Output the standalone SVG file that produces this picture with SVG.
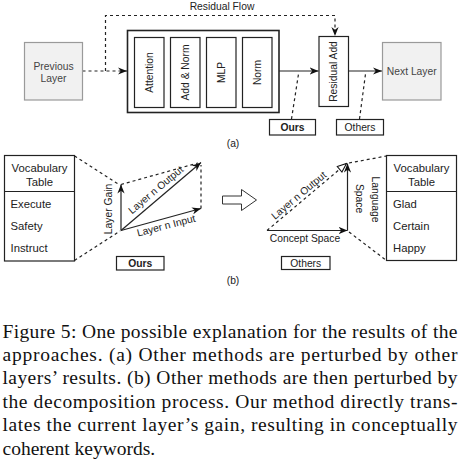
<svg xmlns="http://www.w3.org/2000/svg" width="464" height="467" viewBox="0 0 464 467">
<defs>
<style>
.t{font-family:"Liberation Sans",Arial,sans-serif;font-size:10.3px;fill:#222;text-anchor:middle}
.tl{font-family:"Liberation Sans",Arial,sans-serif;font-size:11.3px;fill:#222}
.tc{font-family:"Liberation Sans",Arial,sans-serif;font-size:11.3px;fill:#222;text-anchor:middle}
.b{font-weight:bold}
.g{fill:#444}
.box{fill:#fff;stroke:#222;stroke-width:1.2}
.gbox{fill:#f1f1f1;stroke:#9a9a9a;stroke-width:1.2}
.ln{fill:none;stroke:#222;stroke-width:1.2}
.dl{fill:none;stroke:#222;stroke-width:1.2;stroke-dasharray:3 3}
.cap{font-family:"Liberation Serif","Times New Roman",serif;font-size:19.5px;fill:#111}
</style>
<marker id="ar" markerUnits="userSpaceOnUse" viewBox="0 0 10 8" markerWidth="9" markerHeight="7.2" refX="10" refY="4" orient="auto">
<path d="M0,0 L10,4 L0,8 L3,4 Z" fill="#111"/>
</marker>
<marker id="ho" markerUnits="userSpaceOnUse" viewBox="0 0 12 10" markerWidth="11" markerHeight="9" refX="11" refY="5" orient="auto">
<path d="M1,1 L11,5 L1,9 Z" fill="#fff" stroke="#111" stroke-width="1.2"/>
</marker>
</defs>

<text class="t" x="222" y="9.5">Residual Flow</text>

<g id="connectors">
<line class="dl" x1="82.5" y1="71" x2="127" y2="71" marker-end="url(#ar)"/>
<path class="dl" d="M105.5,71 V15.5 H335 V36" marker-end="url(#ar)"/>
<line class="ln" x1="279" y1="71" x2="318.5" y2="71" marker-end="url(#ar)"/>
<line class="ln" x1="348.5" y1="71" x2="382" y2="71" marker-end="url(#ar)"/>
<line class="dl" x1="291.5" y1="119" x2="298.5" y2="74"/>
<line class="dl" x1="359.5" y1="119" x2="365.5" y2="74"/>
<line class="dl" x1="74.5" y1="156" x2="119" y2="184.5"/>
<line class="dl" x1="74.5" y1="260.5" x2="120" y2="231"/>
<line class="ln" x1="121" y1="230.5" x2="121" y2="184.5" marker-end="url(#ar)"/>
<line class="ln" x1="121" y1="230.5" x2="201" y2="162.5" marker-end="url(#ar)"/>
<line class="ln" x1="121" y1="230.5" x2="201" y2="208.5" marker-end="url(#ar)"/>
<line class="dl" x1="121" y1="184.5" x2="198" y2="163"/>
<line class="dl" x1="201" y1="208.5" x2="201" y2="165"/>
<line class="ln" x1="267" y1="230.5" x2="347.5" y2="230.5" marker-end="url(#ar)"/>
<line class="ln" x1="347.5" y1="230.5" x2="347.5" y2="163.5" marker-end="url(#ar)"/>
<line class="dl" x1="267" y1="230.5" x2="346.5" y2="163.5" marker-end="url(#ho)"/>
<line class="dl" x1="349" y1="163" x2="386.5" y2="156"/>
<line class="dl" x1="349" y1="232" x2="386.5" y2="260.5"/>
</g>

<g id="previous-layer">
<rect class="gbox" x="24.5" y="42.5" width="58" height="57.5"/>
<text class="t g" x="53.5" y="69.5">Previous</text>
<text class="t g" x="53.5" y="82">Layer</text>
</g>

<g id="block">
<rect fill="#fff" stroke="#222" stroke-width="1.6" x="127.5" y="30.5" width="151.5" height="82"/>
</g>
<g id="attention">
<rect class="box" x="134.5" y="37.5" width="29.5" height="70"/>
<text class="t" transform="translate(149.25,72.5) rotate(-90)" y="3.6">Attention</text>
</g>
<g id="add-norm">
<rect class="box" x="170.5" y="37.5" width="29.5" height="70"/>
<text class="t" transform="translate(185.25,72.5) rotate(-90)" y="3.6">Add &amp; Norm</text>
</g>
<g id="mlp">
<rect class="box" x="206.5" y="37.5" width="29.5" height="70"/>
<text class="t" transform="translate(221.25,72.5) rotate(-90)" y="3.6">MLP</text>
</g>
<g id="norm">
<rect class="box" x="242.5" y="37.5" width="29.5" height="70"/>
<text class="t" transform="translate(257.25,72.5) rotate(-90)" y="3.6">Norm</text>
</g>

<g id="residual-add">
<rect class="box" x="319" y="36.5" width="29.5" height="70"/>
<text class="t" transform="translate(333.75,71.5) rotate(-90)" y="3.6">Residual Add</text>
</g>

<g id="next-layer">
<rect class="gbox" x="382.5" y="42.5" width="58.5" height="57.5"/>
<text class="t g" x="411.75" y="75">Next Layer</text>
</g>

<g id="ours-a">
<rect class="box" x="269.5" y="119.5" width="46" height="15.5"/>
<text class="t b" x="292.5" y="131">Ours</text>
</g>
<g id="others-a">
<rect class="box" x="336.5" y="119.5" width="47" height="15.5"/>
<text class="t" x="360" y="131">Others</text>
</g>
<text class="t" x="233" y="147">(a)</text>

<g id="vocab-left">
<rect class="box" x="4.5" y="155.5" width="70" height="105.5"/>
<line class="ln" x1="4.5" y1="191.5" x2="74.5" y2="191.5"/>
<text class="tc" x="39.5" y="172">Vocabulary</text>
<text class="tc" x="39.5" y="185.5">Table</text>
<text class="tl" x="10.5" y="207.5">Execute</text>
<text class="tl" x="10.5" y="229.5">Safety</text>
<text class="tl" x="10.5" y="252">Instruct</text>
</g>

<g id="vectors-left">
<text class="t" transform="translate(111.5,209) rotate(-90)">Layer Gain</text>
<text class="t" transform="translate(158,192.5) rotate(-40)">Layer n Output</text>
<text class="t" transform="translate(167,229) rotate(-14.5)">Layer n Input</text>
</g>

<g id="ours-b">
<rect class="box" x="116.5" y="256.5" width="47.5" height="13.5"/>
<text class="t b" x="140.25" y="267">Ours</text>
</g>

<g id="hollow-arrow">
<path d="M222.5,196 H241.5 V189.5 L256.5,200 L241.5,210.5 V204 H222.5 Z" fill="#fff" stroke="#333" stroke-width="1"/>
</g>

<g id="vectors-right">
<text class="t" x="305" y="241.5">Concept Space</text>
<text class="t" transform="translate(352.5,198.5) rotate(90)" y="-3.6">Space</text>
<text class="t" transform="translate(368,199.5) rotate(90)" y="-3.6">Language</text>
<text class="t" transform="translate(301,198) rotate(-40)">Layer n Output</text>
</g>

<g id="others-b">
<rect class="box" x="281.5" y="256.5" width="48.5" height="13"/>
<text class="t" x="305.75" y="267">Others</text>
</g>

<g id="vocab-right">
<rect class="box" x="386.5" y="155.5" width="70" height="105"/>
<line class="ln" x1="386.5" y1="191.5" x2="456.5" y2="191.5"/>
<text class="tc" x="421.5" y="172">Vocabulary</text>
<text class="tc" x="421.5" y="185.5">Table</text>
<text class="tl" x="393" y="207.5">Glad</text>
<text class="tl" x="393" y="229.5">Certain</text>
<text class="tl" x="393" y="252">Happy</text>
</g>
<text class="t" x="233" y="284">(b)</text>

<g id="caption">
<text class="cap" x="2.5" y="337.5" textLength="455" lengthAdjust="spacing">Figure 5: One possible explanation for the results of the</text>
<text class="cap" x="2.5" y="360.9" textLength="455" lengthAdjust="spacing">approaches. (a) Other methods are perturbed by other</text>
<text class="cap" x="2.5" y="384.3" textLength="455" lengthAdjust="spacing">layers’ results. (b) Other methods are then perturbed by</text>
<text class="cap" x="2.5" y="407.7" textLength="455" lengthAdjust="spacing">the decomposition process. Our method directly trans-</text>
<text class="cap" x="2.5" y="431.1" textLength="455" lengthAdjust="spacing">lates the current layer’s gain, resulting in conceptually</text>
<text class="cap" x="2.5" y="454.5">coherent keywords.</text>
</g>
</svg>
